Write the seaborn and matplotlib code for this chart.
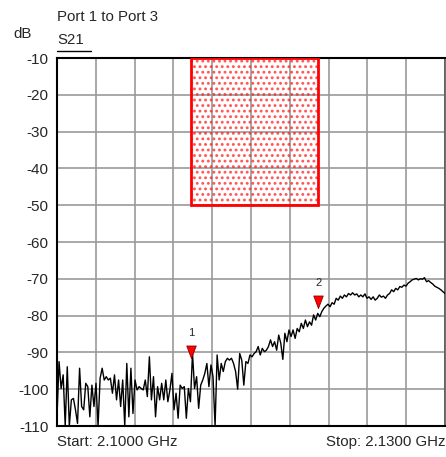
import numpy as np
import pandas as pd
from matplotlib import pyplot as plt
from matplotlib.patches import Rectangle
import seaborn as sns

# sweep settings (GHz)
start_ghz = 2.1000
stop_ghz = 2.1300

# S21 trace in dB left to right
s21_db = [
    -107.5, -92.5, -99.8, -96.1, -110.0, -93.9, -110.0, -102.9, -102.5, -105.6,
    -109.3, -94.3, -104.7, -105.6, -98.4, -99.3, -107.5, -98.9, -104.7, -98.4,
    -110.0, -97.0, -94.3, -97.5, -96.6, -97.5, -97.0, -101.1, -96.1, -102.9,
    -97.5, -104.7, -97.5, -110.0, -93.0, -107.5, -94.3, -106.6, -97.5, -100.2,
    -99.3, -99.8, -100.2, -97.5, -102.0, -91.2, -102.9, -96.6, -107.5, -99.3,
    -102.9, -98.4, -102.9, -97.5, -103.4, -100.2, -95.7, -105.6, -101.1, -107.9,
    -98.9, -99.8, -99.3, -107.9, -99.8, -103.4, -90.3, -99.8, -96.6, -105.2,
    -98.9, -97.5, -95.7, -93.0, -99.3, -93.4, -96.6, -110.0, -90.7, -97.5,
    -93.0, -95.2, -92.5, -91.6, -92.1, -91.6, -93.0, -95.2, -100.0, -90.3,
    -92.1, -98.9, -92.5, -93.0, -90.7, -91.2, -90.3, -89.8, -88.4, -90.7,
    -88.9, -89.8, -89.4, -88.4, -86.6, -88.4, -87.1, -89.4, -85.3, -87.5,
    -91.9, -84.8, -87.1, -83.9, -85.7, -83.9, -86.2, -83.5, -84.4, -82.1,
    -83.5, -81.2, -83.0, -81.7, -82.6, -79.8, -81.2, -79.4, -80.3, -78.9,
    -78.0, -77.4, -76.9, -77.6, -76.5, -76.9, -75.3, -75.8, -74.7, -75.3,
    -74.4, -74.9, -74.0, -74.4, -73.8, -74.4, -74.1, -74.9, -74.4, -74.9,
    -74.1, -75.3, -74.9, -75.6, -74.9, -75.8, -75.3, -74.4, -75.0, -74.7,
    -75.3, -74.4, -74.0, -73.0, -73.5, -72.6, -73.0, -72.1, -72.3, -71.7,
    -72.0, -71.2, -70.8, -70.3, -70.1, -69.9, -70.3, -70.0, -70.1, -69.7,
    -70.8, -70.5, -71.0, -71.4, -72.0, -72.3, -72.6, -73.0, -73.5, -74.0,
]

# limit mask (shaded box)
mask_ghz = [2.11035, 2.1202]
mask_db = [-50, -10]

# markers
marker_ids = ["1", "2"]
marker_ghz = [2.11035, 2.1202]
marker_db = [-91.5, -77.9]

y_ticks = [-10, -20, -30, -40, -50, -60, -70, -80, -90, -100, -110]

sns.set_style("white")
plt.rcParams['font.family'] = ['Liberation Sans', 'DejaVu Sans']
plt.rcParams['hatch.linewidth'] = 1.3

W, H = 446, 457
fig = plt.figure(figsize=(W / 100, H / 100), dpi=100)
ax = fig.add_axes([57 / W, 1 - 426 / H, 388 / W, 368 / H])

df = pd.DataFrame({
    "freq": np.linspace(start_ghz, stop_ghz, len(s21_db)),
    "s21": s21_db,
})

# mask box
ax.add_patch(Rectangle((mask_ghz[0], mask_db[0]), mask_ghz[1] - mask_ghz[0],
                       mask_db[1] - mask_db[0], facecolor='none',
                       edgecolor=(1, 0.1, 0.1, 0.7), hatch='...', lw=0, zorder=2))
ax.add_patch(Rectangle((mask_ghz[0], mask_db[0]), mask_ghz[1] - mask_ghz[0],
                       mask_db[1] - mask_db[0], facecolor='none',
                       edgecolor='red', lw=2.0, zorder=3))

sns.lineplot(data=df, x="freq", y="s21", ax=ax, color='black', lw=1.0,
             zorder=4, legend=False)

# down-pointing triangle with the tip on the point
tri = [(0, 0), (-0.38, 1), (0.38, 1), (0, 0)]
for mid, mf, mv in zip(marker_ids, marker_ghz, marker_db):
    ax.plot(mf, mv, marker=tri, markersize=18, color='red',
            markeredgecolor='#900000', markeredgewidth=0.6, zorder=6)
    ax.annotate(mid, (mf, mv), xytext=(0, 18), textcoords='offset points',
                ha='center', va='center', fontsize=8)

ax.set_xlim(start_ghz, stop_ghz)
ax.set_ylim(-110, -10)
ax.set_xticks(np.linspace(start_ghz, stop_ghz, 11))
ax.set_xticklabels([])
ax.set_yticks(y_ticks)
ax.set_yticklabels([str(t) for t in y_ticks], fontsize=11)
ax.tick_params(axis='both', length=0, pad=6)
ax.grid(True, color='#999999', lw=1.2)
ax.set_axisbelow(True)
ax.set_xlabel("")
ax.set_ylabel("")
for side in ['left', 'bottom', 'top']:
    ax.spines[side].set_color('black')
    ax.spines[side].set_linewidth(1.5)
ax.spines['right'].set_color('#555555')
ax.spines['right'].set_linewidth(1.2)


def px(x, y):
    return x / W, 1 - y / H


fs = 10.8
fig.text(*px(57, 17), "Port 1 to Port 3", fontsize=fs, va='center', ha='left')
fig.text(*px(13, 34), "dB", fontsize=fs, va='center', ha='left')
fig.text(*px(57, 40), "S21", fontsize=fs, va='center', ha='left')
fig.add_artist(plt.Line2D([57 / W, 91 / W], [1 - 50.5 / H, 1 - 50.5 / H],
                          color='black', lw=1))
fig.text(*px(57, 442), "Start: 2.1000 GHz", fontsize=fs, va='center', ha='left')
fig.text(*px(445, 442), "Stop: 2.1300 GHz", fontsize=fs, va='center', ha='right')

fig.savefig("out.png", dpi=100)
